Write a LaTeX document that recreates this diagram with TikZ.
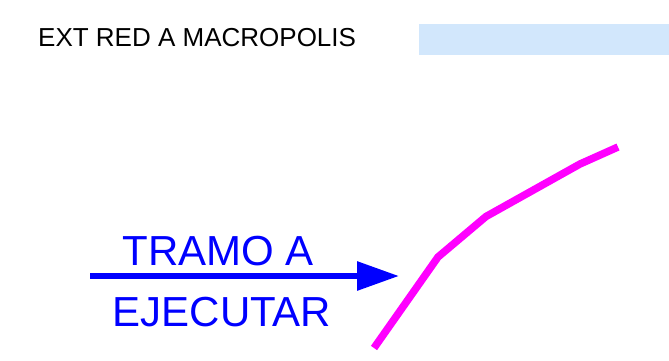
\documentclass[tikz,border=0pt]{standalone}
\usepackage{fontspec}
\setmainfont{Liberation Sans}
\usetikzlibrary{arrows.meta}
\definecolor{lightbox}{RGB}{210,231,252}
\definecolor{tramocol}{RGB}{255,0,255}
\definecolor{pureblue}{RGB}{0,0,255}
\begin{document}
\begin{tikzpicture}[x=1pt,y=-1pt,
  title/.style={anchor=base west,inner sep=0pt,font=\fontsize{26}{30}\selectfont,text=black},
  label/.style={anchor=base west,inner sep=0pt,font=\fontsize{42}{48}\selectfont,text=pureblue},
  tramo/.style={draw=tramocol,line width=7.5pt,line join=miter,line cap=butt},
  pointer/.style={draw=pureblue,line width=6pt,-{Triangle[length=42pt,width=28pt]}}]
\useasboundingbox (0,0) rectangle (669,360);
\node[title] (t) at (38,46.5) {EXT RED A MACROPOLIS};
\fill[lightbox] (419,23.5) rectangle (669,55);
\node[label] (l1) at (122.5,265) {TRAMO A};
\node[label] (l2) at (112.5,326) {EJECUTAR};
\coordinate (a0) at (90,276);
\coordinate (a1) at (399,276);
\draw[pointer] (a0) -- (a1);
\coordinate (p0) at (374,348);
\coordinate (p1) at (438,257);
\coordinate (p2) at (486,216.5);
\coordinate (p3) at (580,164);
\coordinate (p4) at (618,147);
\draw[tramo] (p0) -- (p1) -- (p2) -- (p3) -- (p4);
\end{tikzpicture}
\end{document}
